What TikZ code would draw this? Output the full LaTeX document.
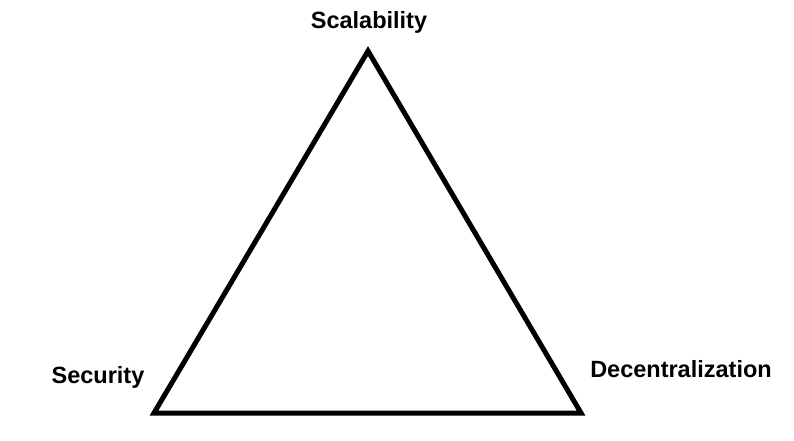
\documentclass[tikz,border=0pt]{standalone}
\usepackage{fontspec}
\setmainfont{Liberation Sans}

\begin{document}
\begin{tikzpicture}[x=1pt,y=-1pt,
    corner/.style={font=\bfseries\fontsize{23.5}{28}\selectfont,inner sep=0pt,anchor=base}]
    \useasboundingbox (0,0) rectangle (794,441);
    \coordinate (top) at (368,51);
    \coordinate (left) at (154,413);
    \coordinate (right) at (581,413);
    \draw[line width=5pt,line join=miter] (top) -- (left) -- (right) -- cycle;
    \node[corner] (scal) at (369,29) {Scalability};
    \node[corner] (sec) at (98,383) {Security};
    \node[corner] (dec) at (681,377) {Decentralization};
  \end{tikzpicture}
\end{document}
